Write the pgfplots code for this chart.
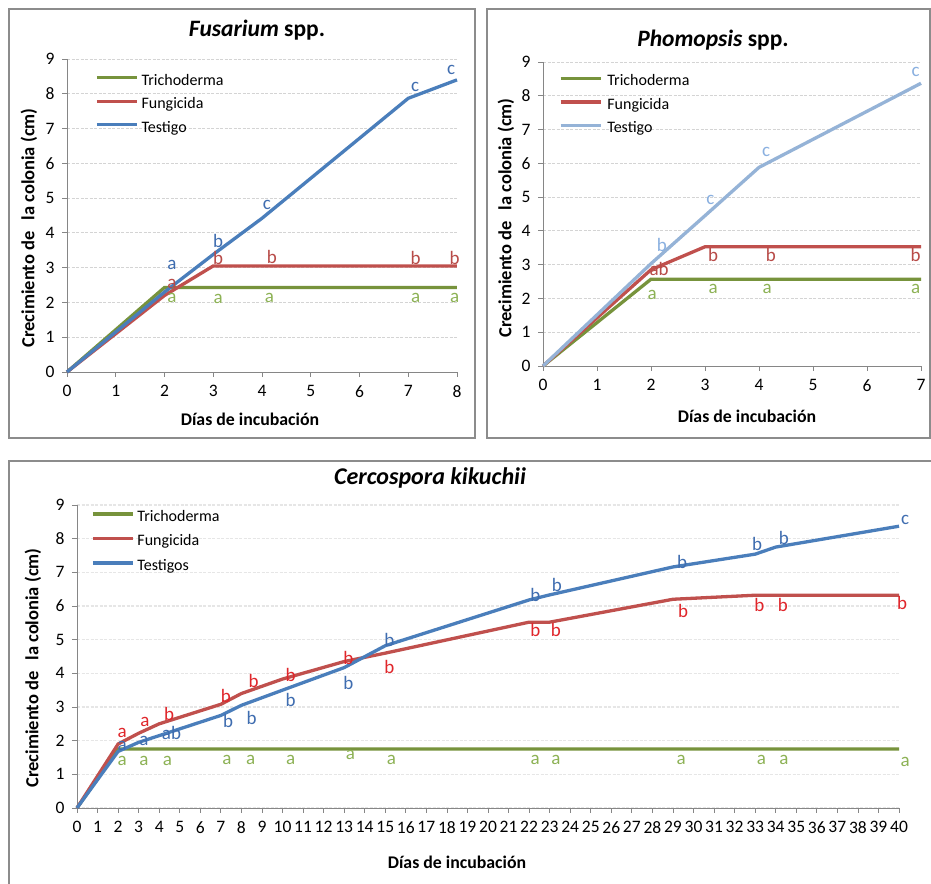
\documentclass[border=0pt]{standalone}
\usepackage{fontspec}
\setmainfont{Carlito}
\usepackage{pgfplots}
\pgfplotsset{compat=1.18}

\definecolor{grn}{HTML}{77933C}
\definecolor{rd}{HTML}{C0504D}
\definecolor{bl}{HTML}{4A7EBB}
\definecolor{lbl}{HTML}{95B3D7}
\definecolor{grnL}{HTML}{8DB255}
\definecolor{rdL}{HTML}{B84B48}
\definecolor{rdC}{HTML}{E0262B}
\definecolor{blL}{HTML}{3F6DB0}
\definecolor{lblL}{HTML}{8AB0E0}
\definecolor{axgray}{HTML}{868686}
\definecolor{framegray}{HTML}{8C8C8C}
\definecolor{gridgray}{HTML}{D4D4D4}
\definecolor{gridC}{HTML}{E6E6E6}

\newcommand\tk{\fontsize{17.5}{19}\selectfont}
\newcommand\legf{\fontsize{16}{18}\selectfont}
\newcommand\lb{\fontsize{19}{21}\selectfont}
\newcommand\ttl{\fontsize{23.5}{26}\selectfont}
\newcommand\lab{\fontsize{17.8}{20}\selectfont}
\newcommand\ylab{\fontsize{18.5}{20}\selectfont}

\pgfplotsset{
  panel/.style={
    scale only axis, anchor=south west, clip=false,
    axis x line*=bottom, axis y line*=left,
    axis line style={draw=axgray, line width=0.8pt, -},
    tick style={draw=axgray, line width=0.8pt},
    major tick length=5pt, tick align=outside,
    ymin=0, ymax=9, ytick distance=1, xtick distance=1,
    ymajorgrids,
    major grid style={draw=gridgray, dash pattern=on 3pt off 1.5pt, line width=0.8pt},
    tick label style={font=\tk},
    xticklabel style={yshift=-5pt},
    yticklabel style={xshift=-4pt},
    /pgf/number format/assume math mode=true,
    every axis plot/.append style={line width=3.3pt},
    legend cell align=left,
    legend image code/.code={\draw[##1, line width=3.3pt] (0pt,4pt) -- (40pt,4pt);},
    legend style={draw=none, fill=none, font=\legf, inner sep=0pt, anchor=north west,
      nodes={inner sep=0pt, text height=11pt, text depth=4pt},
      row sep=8.5pt, column sep=3pt},
  },
  ltr/.style={draw=none, mark=none, forget plot, nodes near coords,
    point meta=explicit symbolic, nodes near coords align={center},
    every node near coord/.append style={font=\lb, inner sep=0pt, text=#1}},
}

\begin{document}
\begin{tikzpicture}[x=1pt,y=1pt]
\path[use as bounding box, fill=white] (0,0) rectangle (931,883);
\begin{scope}
\clip (0,0) rectangle (931,883);
\draw[framegray, line width=1.6pt] (9,445) rectangle (475,874);
\draw[framegray, line width=1.6pt] (487,445) rectangle (930,874);
\draw[framegray, line width=1.6pt] (9,-10) rectangle (945,422);
\end{scope}

% Fusarium
\begin{axis}[panel, at={(67pt,511pt)}, width=390pt, height=313pt,
  xmin=0, xmax=8,
  legend style={at={(axis description cs:0.072,0.952)}}]
\addplot[grn] coordinates {(0,0) (2,2.43) (3,2.43) (4,2.43) (7,2.43) (8,2.43)};
\addlegendentry{Trichoderma}
\addplot[rd] coordinates {(0,0) (2,2.2) (3,3.05) (4,3.05) (7,3.05) (8,3.05)};
\addlegendentry{Fungicida}
\addplot[bl] coordinates {(0,0) (2,2.3) (3,3.38) (4,4.42) (7,7.87) (8,8.4)};
\addlegendentry{Testigo}
\addplot[ltr=grnL] table[meta=l] {
x y l
2.15 2.14 a
3.1 2.1 a
4.15 2.14 a
7.15 2.14 a
7.95 2.14 a
};
\addplot[ltr=rdL] table[meta=l] {
x y l
2.15 2.52 a
3.1 3.28 b
4.2 3.3 b
7.15 3.28 b
7.95 3.28 b
};
\addplot[ltr=blL] table[meta=l] {
x y l
2.15 3.08 a
3.1 3.77 b
4.1 4.8 c
7.14 8.2 c
7.88 8.68 c
};
\end{axis}

% Phomopsis
\begin{axis}[panel, at={(543pt,517pt)}, width=378pt, height=304pt,
  xmin=0, xmax=7,
  legend style={at={(axis description cs:0.042,0.958)}, column sep=5pt}]
\addplot[grn] coordinates {(0,0) (2,2.57) (3,2.57) (4,2.57) (7,2.57)};
\addlegendentry{Trichoderma}
\addplot[rd] coordinates {(0,0) (2,2.85) (3,3.53) (4,3.53) (7,3.53)};
\addlegendentry{Fungicida}
\addplot[lbl] coordinates {(0,0) (2,3.03) (3,4.45) (4,5.88) (7,8.37)};
\addlegendentry{Testigo}
\addplot[ltr=grnL] table[meta=l] {
x y l
2.02 2.11 a
3.15 2.28 a
4.15 2.28 a
6.9 2.28 a
};
\addplot[ltr=rdL] table[meta=l] {
x y l
2.15 2.87 ab
3.15 3.28 b
4.22 3.28 b
6.9 3.28 b
};
\addplot[ltr=lblL] table[meta=l] {
x y l
2.2 3.58 b
3.1 4.93 c
4.13 6.33 c
6.9 8.7 c
};
\end{axis}

% Cercospora
\begin{axis}[panel, at={(77pt,75pt)}, width=822pt, height=303pt,
  xmin=0, xmax=40,
  major grid style={draw=gridC, line width=1.5pt},
  legend style={at={(axis description cs:0.017,0.983)}, row sep=9.5pt}]
\addplot[grn] coordinates {(0,0) (2,1.75) (3,1.75) (4,1.75) (7,1.75) (8,1.75) (10,1.75)
  (13,1.75) (15,1.75) (22,1.75) (23,1.75) (29,1.75) (33,1.75) (34,1.75) (40,1.75)};
\addlegendentry{Trichoderma}
\addplot[rd] coordinates {(0,0) (2,1.9) (3,2.22) (4,2.5) (7,3.08) (8,3.4) (10,3.83)
  (13,4.35) (15,4.6) (22,5.52) (23,5.52) (29,6.2) (33,6.32) (34,6.32) (40,6.32)};
\addlegendentry{Fungicida}
\addplot[bl] coordinates {(0,0) (2,1.68) (3,1.95) (4,2.15) (7,2.75) (8,3.05) (10,3.5)
  (13,4.17) (15,4.82) (22,6.18) (23,6.33) (29,7.16) (33,7.54) (34,7.75) (40,8.37)};
\addlegendentry{Testigos}
\addplot[ltr=grnL] table[meta=l] {
x y l
2.2 1.41 a
3.26 1.41 a
4.4 1.41 a
7.3 1.43 a
8.45 1.43 a
10.4 1.43 a
13.3 1.57 a
15.3 1.43 a
22.3 1.43 a
23.3 1.43 a
29.4 1.43 a
33.3 1.43 a
34.4 1.43 a
40.3 1.38 a
};
\addplot[ltr=rdC] table[meta=l] {
x y l
2.2 2.22 a
3.3 2.55 a
4.48 2.8 b
7.24 3.33 b
8.6 3.77 b
10.4 3.95 b
13.2 4.45 b
15.2 4.18 b
22.3 5.3 b
23.3 5.3 b
29.5 5.85 b
33.2 6.03 b
34.35 6.03 b
40.15 6.08 b
};
\addplot[ltr=blL] table[meta=l] {
x y l
2.2 1.84 a
3.26 2.0 a
4.6 2.22 ab
7.35 2.58 b
8.5 2.67 b
10.4 3.2 b
13.2 3.72 b
15.2 4.98 b
22.3 6.33 b
23.35 6.62 b
29.45 7.3 b
33.1 7.83 b
34.4 8.02 b
40.3 8.55 c
};
\end{axis}

\node[font=\ttl] at (257pt,853pt) {\textbf{\textit{Fusarium} spp.}};
\node[font=\ttl] at (713pt,843pt) {\textbf{\textit{Phomopsis} spp.}};
\node[font=\fontsize{24}{26}\selectfont] at (430pt,405pt) {\textbf{\textit{Cercospora kikuchii}}};
\node[font=\lab] at (250pt,464pt) {\textbf{Días de incubación}};
\node[font=\lab] at (747pt,467pt) {\textbf{Días de incubación}};
\node[font=\lab] at (457pt,21pt) {\textbf{Días de incubación}};
\node[font=\ylab, rotate=90] at (29pt,655pt) {\textbf{Crecimiento de\hspace{0.6em}la colonia (cm)}};
\node[font=\ylab, rotate=90] at (506pt,665pt) {\textbf{Crecimiento de\hspace{0.6em}la colonia (cm)}};
\node[font=\ylab, rotate=90] at (33pt,215pt) {\textbf{Crecimiento de\hspace{0.6em}la colonia (cm)}};
\end{tikzpicture}
\end{document}
